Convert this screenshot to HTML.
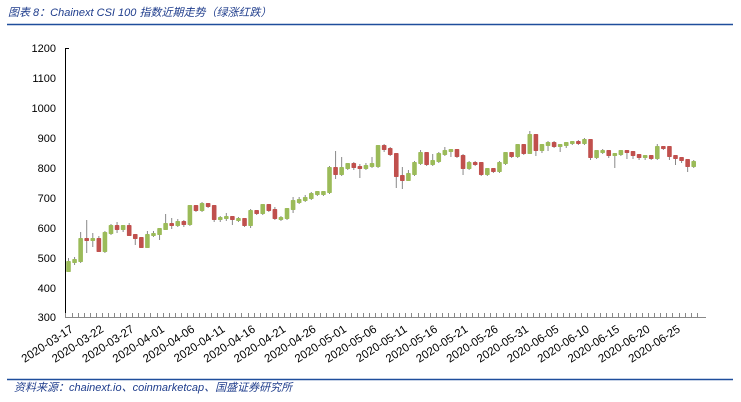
<!DOCTYPE html>
<html><head><meta charset="utf-8"><style>
html,body{margin:0;padding:0;background:#fff;}
svg{display:block;}
text{font-family:"Liberation Sans","Noto Sans CJK SC",sans-serif;}
</style></head><body>
<svg id="s" width="741" height="402" viewBox="0 0 741 402" xmlns="http://www.w3.org/2000/svg">
<text x="8" y="16" font-size="11" font-style="italic" fill="#1f3d8c">图表 8：Chainext CSI 100 指数近期走势（绿涨红跌）</text>
<line x1="7" y1="24.5" x2="733" y2="24.5" stroke="#1f4e9c" stroke-width="1.5"/>
<g font-size="11" fill="#000" text-anchor="end">
<text x="56" y="52">1200</text><text x="56" y="82">1100</text><text x="56" y="112">1000</text>
<text x="56" y="142">900</text><text x="56" y="172">800</text><text x="56" y="202">700</text>
<text x="56" y="232">600</text><text x="56" y="262">500</text><text x="56" y="292">400</text>
<text x="56" y="321">300</text>
</g>
<line x1="65.5" y1="48" x2="65.5" y2="317" stroke="#000" stroke-width="1"/>
<line x1="65" y1="48.5" x2="69" y2="48.5" stroke="#000"/>
<line x1="65" y1="317.5" x2="706" y2="317.5" stroke="#888" stroke-width="1"/>
<g id="ticks" stroke="#888"></g>
<g id="c"></g>
<g font-size="11.5" fill="#000" text-anchor="end" id="lbl">
<text transform="translate(74,331) rotate(-33)">2020-03-17</text>
<text transform="translate(104.4,331) rotate(-33)">2020-03-22</text>
<text transform="translate(134.7,331) rotate(-33)">2020-03-27</text>
<text transform="translate(165.1,331) rotate(-33)">2020-04-01</text>
<text transform="translate(195.4,331) rotate(-33)">2020-04-06</text>
<text transform="translate(225.8,331) rotate(-33)">2020-04-11</text>
<text transform="translate(256.1,331) rotate(-33)">2020-04-16</text>
<text transform="translate(286.5,331) rotate(-33)">2020-04-21</text>
<text transform="translate(316.8,331) rotate(-33)">2020-04-26</text>
<text transform="translate(347.2,331) rotate(-33)">2020-05-01</text>
<text transform="translate(377.5,331) rotate(-33)">2020-05-06</text>
<text transform="translate(407.9,331) rotate(-33)">2020-05-11</text>
<text transform="translate(438.2,331) rotate(-33)">2020-05-16</text>
<text transform="translate(468.6,331) rotate(-33)">2020-05-21</text>
<text transform="translate(498.9,331) rotate(-33)">2020-05-26</text>
<text transform="translate(529.3,331) rotate(-33)">2020-05-31</text>
<text transform="translate(559.6,331) rotate(-33)">2020-06-05</text>
<text transform="translate(590,331) rotate(-33)">2020-06-10</text>
<text transform="translate(620.3,331) rotate(-33)">2020-06-15</text>
<text transform="translate(650.7,331) rotate(-33)">2020-06-20</text>
<text transform="translate(681,331) rotate(-33)">2020-06-25</text>
</g>
<line x1="7" y1="379.5" x2="733" y2="379.5" stroke="#1f4e9c" stroke-width="1.5"/>
<text x="14" y="391" font-size="11" font-style="italic" fill="#1f3d8c">资料来源：chainext.io、coinmarketcap、国盛证券研究所</text>
</svg>
<script>
var d=[
['g',261,272,258,272],['g',259,263,257,265],['g',238,262,232,263],['r',238,241,220,253],['g',238,241,233,247],
['r',238,252,236,252],['g',232,252,231,253],['g',225,234,224,235],['r',225,230,222,233],['g',225,230,225,232],
['r',225,236,223,236],['r',234,239,234,245],['r',237,248,237,248],['g',234,248,231,248],['g',233,236,231,237],
['g',228,235,228,240],['g',223,230,214,230],['r',223,226,218,229],['g',221,226,219,227],['r',221,225,220,227],
['g',205,225,205,226],['r',205,211,205,212],['g',203,211,202,212],['r',203,207,203,208],['r',205,220,205,222],
['g',217,220,216,222],['g',216,219,213,221],['r',216,220,216,225],['g',218,221,217,222],['r',218,226,218,227],
['g',210,226,209,228],['r',210,214,210,215],['g',204,214,204,215],['r',204,211,204,212],['r',209,219,207,220],
['g',217,220,216,221],['g',208,219,208,220],['g',200,210,197,213],['g',199,203,197,204],['g',197,201,195,202],
['g',193,199,192,200],['g',191,195,191,196],['g',191,195,191,196],['g',167,193,166,194],['r',167,175,151,179],
['g',167,175,157,176],['g',163,169,163,170],['r',163,168,162,170],['r',166,169,164,178],['g',165,169,163,170],
['g',163,167,157,168],['g',145,167,145,168],['r',145,150,144,152],['r',148,155,147,156],['r',153,177,153,188],
['r',175,181,167,189],['g',173,181,170,181],['g',162,175,161,176],['g',152,164,150,165],['r',152,165,152,166],
['g',160,165,154,166],['g',153,162,152,163],['g',150,155,147,156],['g',149,152,149,157],['r',149,157,149,158],
['r',155,169,154,175],['g',162,169,161,170],['r',162,165,161,166],['r',162,175,162,176],['g',168,175,168,176],
['r',168,172,168,173],['g',162,172,161,173],['g',152,164,152,165],['r',152,157,152,158],['g',144,157,144,158],
['r',144,154,144,155],['g',134,154,131,154],['r',134,151,134,156],['g',144,151,144,153],['g',142,146,141,151],
['r',142,147,141,148],['g',144,147,144,152],['g',142,146,142,148],['g',141,144,141,145],['r',141,144,140,145],
['g',139,144,138,145],['r',139,158,139,160],['g',150,158,150,159],['g',150,153,149,154],['r',150,156,150,158],
['g',153,156,153,168],['g',150,155,150,156],['r',150,153,150,159],['r',151,156,151,159],['r',154,158,154,160],
['g',155,158,155,160],['r',155,159,155,160],['g',146,159,144,160],['r',146,149,146,150],['r',146,157,146,160],
['r',155,159,155,165],['r',157,161,157,163],['r',159,167,159,172],['g',161,167,160,168]];
var ns="http://www.w3.org/2000/svg",c=document.getElementById('c'),t=document.getElementById('ticks');
function el(n,a,p){var e=document.createElementNS(ns,n);for(var k in a)e.setAttribute(k,a[k]);p.appendChild(e);}
var x0=68.5,sp=6.07;
for(var i=0;i<=104;i++){var tx=Math.round(x0-sp/2+i*sp)+0.5;el('line',{x1:tx,y1:313,x2:tx,y2:317},t);}
d.forEach(function(q,i){var x=x0+i*sp,col=q[0]=='g'?'#9bbb59':'#c0504d';
el('line',{x1:x,y1:q[3],x2:x,y2:q[4],stroke:'#888','stroke-width':1},c);
el('rect',{x:x-2.3,y:q[1],width:4.6,height:Math.max(2.5,q[2]-q[1]),fill:col,rx:0.8},c);});
</script>
</body></html>
